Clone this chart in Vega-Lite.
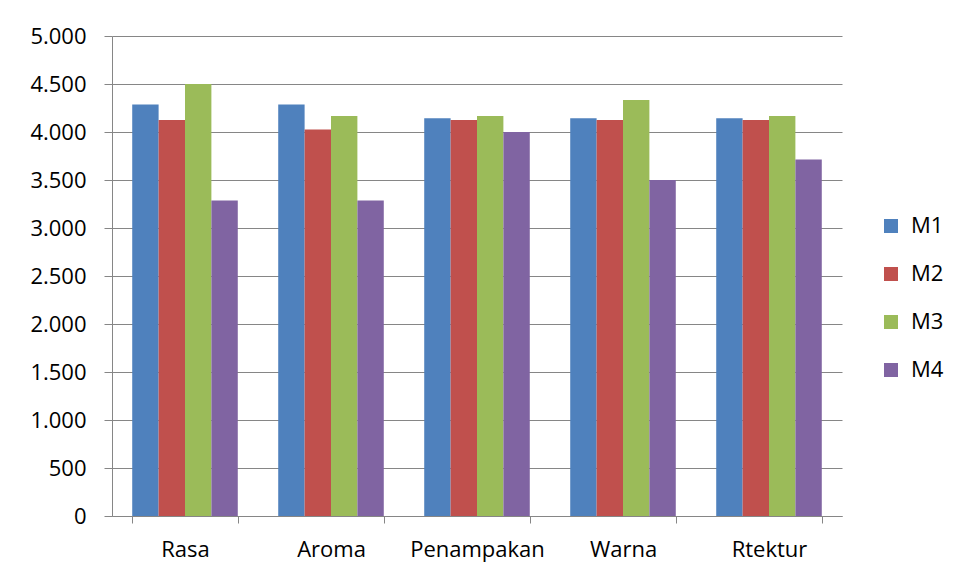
{
  "$schema": "https://vega.github.io/schema/vega-lite/v6.json",
  "width": 730,
  "height": 480,
  "autosize": {"type": "none"},
  "padding": {"left": 112, "top": 36, "right": 117, "bottom": 64},
  "background": "white",
  "config": {
    "view": {"stroke": null},
    "font": "Open Sans",
    "axis": {"labelFont": "Open Sans", "labelFontSize": 22, "labelColor": "#000000", "gridColor": "#868686", "domainColor": "#868686", "tickColor": "#868686", "gridWidth": 1, "domainWidth": 1, "tickWidth": 1}
  },
  "data": {
    "values": [
      {"kategori": "Rasa", "seri": "M1", "nilai": 4286},
      {"kategori": "Rasa", "seri": "M2", "nilai": 4125},
      {"kategori": "Rasa", "seri": "M3", "nilai": 4500},
      {"kategori": "Rasa", "seri": "M4", "nilai": 3286},
      {"kategori": "Aroma", "seri": "M1", "nilai": 4286},
      {"kategori": "Aroma", "seri": "M2", "nilai": 4025},
      {"kategori": "Aroma", "seri": "M3", "nilai": 4167},
      {"kategori": "Aroma", "seri": "M4", "nilai": 3286},
      {"kategori": "Penampakan", "seri": "M1", "nilai": 4143},
      {"kategori": "Penampakan", "seri": "M2", "nilai": 4125},
      {"kategori": "Penampakan", "seri": "M3", "nilai": 4167},
      {"kategori": "Penampakan", "seri": "M4", "nilai": 4000},
      {"kategori": "Warna", "seri": "M1", "nilai": 4143},
      {"kategori": "Warna", "seri": "M2", "nilai": 4125},
      {"kategori": "Warna", "seri": "M3", "nilai": 4333},
      {"kategori": "Warna", "seri": "M4", "nilai": 3500},
      {"kategori": "Rtektur", "seri": "M1", "nilai": 4143},
      {"kategori": "Rtektur", "seri": "M2", "nilai": 4125},
      {"kategori": "Rtektur", "seri": "M3", "nilai": 4167},
      {"kategori": "Rtektur", "seri": "M4", "nilai": 3714}
    ]
  },
  "mark": {"type": "bar"},
  "encoding": {
    "x": {
      "field": "kategori",
      "type": "nominal",
      "sort": ["Rasa", "Aroma", "Penampakan", "Warna", "Rtektur"],
      "scale": {"paddingInner": 0.277, "paddingOuter": 0.1385},
      "axis": {"title": null, "labelAngle": 0, "tickBand": "extent", "tickSize": 7, "labelPadding": 16, "grid": false}
    },
    "xOffset": {"field": "seri", "type": "nominal", "scale": {"paddingInner": 0, "paddingOuter": 0}},
    "y": {
      "field": "nilai",
      "type": "quantitative",
      "scale": {"domain": [0, 5000], "nice": false},
      "axis": {"title": null, "values": [0, 500, 1000, 1500, 2000, 2500, 3000, 3500, 4000, 4500, 5000], "labelExpr": "replace(format(datum.value, ','), ',', '.')", "tickSize": 8, "labelPadding": 18, "grid": true}
    },
    "color": {
      "field": "seri",
      "type": "nominal",
      "scale": {"domain": ["M1", "M2", "M3", "M4"], "range": ["#4F81BD", "#C0504D", "#9BBB59", "#8064A2"]},
      "legend": {"title": null, "orient": "none", "legendX": 768, "legendY": 179, "symbolType": "square", "symbolSize": 196, "symbolStrokeWidth": 0, "labelFont": "Open Sans", "labelFontSize": 22, "labelColor": "#000000", "rowPadding": 26, "labelOffset": 9}
    }
  }
}
